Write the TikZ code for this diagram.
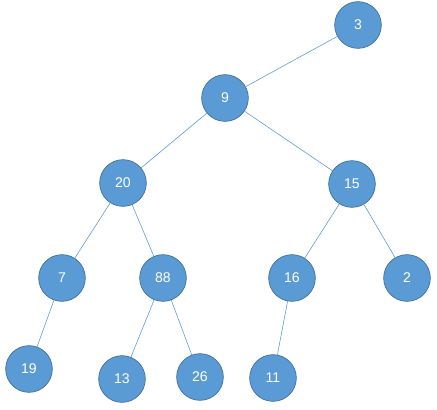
\documentclass[tikz,border=0pt]{standalone}
\usepackage{fontspec}
\setmainfont{Liberation Sans}
\usepackage{tikz}
\usetikzlibrary{positioning}
\definecolor{cnode}{HTML}{5B9BD5}
\definecolor{cedge}{HTML}{41719C}

\begin{document}
\begin{tikzpicture}[
    x=0.03cm, y=-0.03cm,
    vert/.style={circle, draw=cedge, line width=0.6pt, fill=cnode,
                 minimum size=1.4cm, inner sep=0pt, text=white,
                 font=\fontsize{12}{14}\selectfont},
    link/.style={draw=cnode, line width=0.5pt},
]

% Bounding box (reference size)
\useasboundingbox (0,0) rectangle (437,409);

% === Tree nodes ===
\node[vert] (n3)  at (358, 25)  {3};
\node[vert] (n9)  at (225, 98)  {9};
\node[vert] (n20) at (123, 183) {20};
\node[vert] (n15) at (352, 184) {15};
\node[vert] (n7)  at (62, 278)  {7};
\node[vert] (n88) at (163, 278) {88};
\node[vert] (n16) at (292, 278) {16};
\node[vert] (n2)  at (407, 278) {2};
\node[vert] (n19) at (29, 369)  {19};
\node[vert] (n13) at (122, 379) {13};
\node[vert] (n26) at (200, 377) {26};
\node[vert] (n11) at (273, 378) {11};

% === Edges ===
\draw[link] (n3) -- (n9);
\draw[link] (n9) -- (n20);
\draw[link] (n9) -- (n15);
\draw[link] (n20) -- (n7);
\draw[link] (n20) -- (n88);
\draw[link] (n15) -- (n16);
\draw[link] (n15) -- (n2);
\draw[link] (n7) -- (n19);
\draw[link] (n88) -- (n13);
\draw[link] (n88) -- (n26);
\draw[link] (n16) -- (n11);

\end{tikzpicture}
\end{document}
